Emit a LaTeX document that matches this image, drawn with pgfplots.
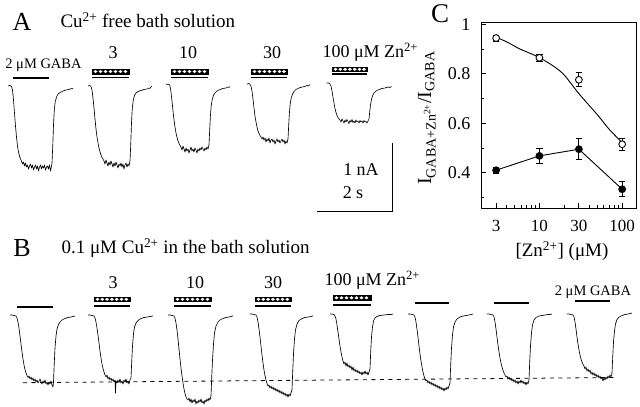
\documentclass[border=0pt]{standalone}
\usepackage{fontspec}
\setmainfont{Liberation Serif}
\usepackage{pgfplots}
\pgfplotsset{compat=1.18}
\newcommand{\fs}[1]{\fontsize{#1}{#1}\selectfont}
\pgfplotsset{
  trace/.style={black, line width=0.65pt, mark=none, line join=round},
  bar/.style={black, line width=1.3pt, mark=none},
  stim/.style={draw=black, fill=black, line width=1pt, mark=none},
  holes/.style={only marks, mark=*, mark size=1.25pt, white, mark options={draw=white, fill=white, xscale=1.3}},
}
\begin{document}
\begin{tikzpicture}
\useasboundingbox (0,0) rectangle (640pt,407pt);
\begin{axis}[at={(0,0)}, anchor=south west, width=640pt, height=407pt,
  scale only axis, hide axis, xmin=0, xmax=640, ymin=0, ymax=407,
  y dir=reverse, clip=false]
% ---------------- Panel A ----------------
\node[font=\fs{26}] at (axis cs:22,22) {A};
\node[font=\fs{19}, anchor=west] at (axis cs:57,20) {Cu\textsuperscript{2+} free bath solution};
\node[font=\fs{14.5}] at (axis cs:43.5,65) {2 μM GABA};
\node[font=\fs{18}] at (axis cs:113,53) {3};
\node[font=\fs{18}] at (axis cs:188,53) {10};
\node[font=\fs{18}] at (axis cs:272,53) {30};
\node[font=\fs{18}, anchor=west] at (axis cs:319,52) {100 μM Zn\textsuperscript{2+}};
% stimulus bars A
\addplot[bar] coordinates {(13,78) (49,78)};
\addplot[stim] coordinates {(92,69) (129,69) (129,74) (92,74)} -- cycle;
\addplot[holes] coordinates {(95.5,71.5) (100.5,71.5) (105.5,71.5) (110.5,71.5) (115.5,71.5) (120.5,71.5) (125.5,71.5)};
\addplot[bar] coordinates {(92,77.5) (129,77.5)};
\addplot[stim] coordinates {(171,69) (208,69) (208,74) (171,74)} -- cycle;
\addplot[holes] coordinates {(174.5,71.5) (179.5,71.5) (184.5,71.5) (189.5,71.5) (194.5,71.5) (199.5,71.5) (204.5,71.5)};
\addplot[bar] coordinates {(171,77.5) (208,77.5)};
\addplot[stim] coordinates {(251,69) (287,69) (287,74) (251,74)} -- cycle;
\addplot[holes] coordinates {(254.5,71.5) (259.5,71.5) (264.5,71.5) (269.5,71.5) (274.5,71.5) (279.5,71.5) (284,71.5)};
\addplot[bar] coordinates {(251,77.5) (287,77.5)};
\addplot[stim] coordinates {(332,67) (367,67) (367,71.5) (332,71.5)} -- cycle;
\addplot[holes] coordinates {(335.5,69.3) (340.3,69.3) (345.1,69.3) (349.9,69.3) (354.7,69.3) (359.5,69.3) (364,69.3)};
\addplot[bar] coordinates {(332,74) (367,74)};
% traces A
\addplot[trace] coordinates {(8,86) (10,85.5) (11.5,86.5) (12.5,90) (13.5,100) (14.5,113) (15.5,126) (16.5,137) (17.5,146) (18.5,152) (19.5,156) (20.5,159) (21.5,161)
 (22.5,164) (23.5,162) (24.5,166) (25.5,163) (26.5,167) (27.5,165) (28.5,169) (29.5,166) (30.5,164) (31.5,168) (32.5,165) (33.5,170) (34.5,167) (35.5,165) (36.5,169) (37.5,166) (38.5,171) (39.5,167) (40.5,165) (41.5,169) (42.5,166) (43.5,168) (44.5,165) (45.5,170) (46.5,167) (47.5,166) (48.5,169) (49.5,165) (50.5,171) (51.5,166) (52,163)
 (52.8,145) (53.5,125) (54.3,110) (55.2,102) (56.5,97) (58,94) (60,92.5) (63,91) (66,90) (69,89.5) (71,88.5) (72,89) (73,88)};
\addplot[trace] coordinates {(88,86) (90,85.5) (91,86.5) (92,90) (93,98) (94,108) (95,119) (96,129) (97,137) (98,143) (99,148) (100,152) (101,155) (102,157.5) (103,159)
 (104,161) (105,164) (106,160) (107,163) (108,166) (109,162) (110,165) (111,161) (112,164) (113,167) (114,163) (115,166) (116,162) (117,165) (118,168) (119,164) (120,166) (121,163) (122,167) (123,164) (124,169) (125,165) (126,163) (127,167) (128,164) (129,166) (130,161)
 (130.8,143) (131.5,123) (132.3,108) (133.3,100) (134.5,95.5) (136,93) (138,91.5) (141,90.5) (144,89.5) (147,89) (149,88) (150,88.5) (151,87) (152,86)};
\addplot[trace] coordinates {(166,84) (168,84.5) (169,84) (170,86) (171,92) (172,101) (173,111) (174,120) (175,127) (176,133) (177,137.5) (178,141) (179,143.5) (180,145.5)
 (181,147) (182,150) (183,146) (184,149) (185,152) (186,148) (187,151) (188,149) (189,153) (190,150) (191,147) (192,151) (193,149) (194,152) (195,148) (196,150) (197,153) (198,149) (199,151) (200,148) (201,150) (202,147) (203,149) (204,151) (205,148) (206,150) (207,147) (208,149) (209,145)
 (209.7,130) (210.4,116) (211.2,106) (212.3,99) (213.6,95) (215,93) (217,91) (220,89.5) (223,88.5) (226,88) (228,87) (229,87.5) (230,86.5)};
\addplot[trace] coordinates {(247,84) (249,83.5) (250,84.5) (251,86) (252,91) (253,99) (254,108) (255,116) (256,122) (257,127) (258,131) (259,133.5) (260,135.5) (261,137)
 (262,139) (263,137) (264,140) (265,138) (266,142) (267,139) (268,141) (269,138) (270,143) (271,140) (272,139) (273,142) (274,140) (275,144) (276,141) (277,139) (278,142) (279,140) (280,143) (281,141) (282,139) (283,142) (284,140) (285,144) (286,141) (287,143) (288,139)
 (288.7,125) (289.4,113) (290.2,104) (291.2,98) (292.5,94) (294,91.5) (296,89.5) (299,88) (302,87) (305,86.5) (307,85.5) (308.5,86) (310,84.5)};
\addplot[trace] coordinates {(326.5,83) (328.5,83) (330,84) (331,86) (332,91) (333,97) (334,103) (335,108.5) (336,112.5) (337,115.5) (338,117.5) (339,119)
 (340,120) (341,122) (342,119) (343,121) (344,123) (345,120) (346,122) (347,119.5) (348,121.5) (349,123.5) (350,120.5) (351,122) (352,119.5) (353,122.5) (354,121) (355,123) (356,120) (357,122) (358,121) (359,123) (360,120.5) (361,122) (362,121) (363,123) (364,120.5) (365,122) (366,121.5) (367,123) (368,121) (369,119)
 (369.7,112) (370.5,105) (371.5,99.5) (372.7,95.5) (374,93) (376,91) (379,89.5) (382,88.5) (385,88) (388,87) (390,87.5) (391.5,86.5)};
% scale bar
\addplot[black, line width=1pt, mark=none] coordinates {(392,143) (392,211) (317,211)};
\node[font=\fs{18}] at (axis cs:361,170) {1 nA};
\node[font=\fs{18}] at (axis cs:353,193) {2 s};
% ---------------- Panel B ----------------
\node[font=\fs{26}] at (axis cs:22,248) {B};
\node[font=\fs{19}, anchor=west] at (axis cs:58,248) {0.1 μM Cu\textsuperscript{2+} in the bath solution};
\node[font=\fs{18}] at (axis cs:113,283) {3};
\node[font=\fs{18}] at (axis cs:195,283) {10};
\node[font=\fs{18}] at (axis cs:273,283) {30};
\node[font=\fs{18}, anchor=west] at (axis cs:321,280) {100 μM Zn\textsuperscript{2+}};
\node[font=\fs{14.5}] at (axis cs:593,292) {2 μM GABA};
% stimulus bars B
\addplot[bar] coordinates {(17,307) (53,307)};
\addplot[stim] coordinates {(94,297) (130,297) (130,301.5) (94,301.5)} -- cycle;
\addplot[holes] coordinates {(97.5,299.3) (102.3,299.3) (107.1,299.3) (111.9,299.3) (116.7,299.3) (121.5,299.3) (126.3,299.3)};
\addplot[bar] coordinates {(94,306) (130,306)};
\addplot[stim] coordinates {(174,297) (211,297) (211,301.5) (174,301.5)} -- cycle;
\addplot[holes] coordinates {(177.5,299.3) (182.5,299.3) (187.5,299.3) (192.5,299.3) (197.5,299.3) (202.5,299.3) (207.5,299.3)};
\addplot[bar] coordinates {(174,306) (211,306)};
\addplot[stim] coordinates {(255,297) (291,297) (291,301.5) (255,301.5)} -- cycle;
\addplot[holes] coordinates {(258.5,299.3) (263.3,299.3) (268.1,299.3) (272.9,299.3) (277.7,299.3) (282.5,299.3) (287.3,299.3)};
\addplot[bar] coordinates {(255,306) (291,306)};
\addplot[stim] coordinates {(333,295.5) (371,295.5) (371,300) (333,300)} -- cycle;
\addplot[holes] coordinates {(336.5,297.8) (341.5,297.8) (346.5,297.8) (351.5,297.8) (356.5,297.8) (361.5,297.8) (366.5,297.8)};
\addplot[bar] coordinates {(333,305) (371,305)};
\addplot[bar] coordinates {(415,303) (449,303)};
\addplot[bar] coordinates {(494,303) (529,303)};
\addplot[bar] coordinates {(575,301) (610,301)};
% dashed reference line
\addplot[black, line width=0.8pt, dash pattern=on 4pt off 4.5pt, mark=none] coordinates {(23,382.7) (617,377.5)};
% traces B
\addplot[trace] coordinates {(10,315) (12,315) (14,315.5) (16,316) (17,318) (18,322) (19,328) (20,336) (21,344) (22,352) (23,359) (24,365) (25,369.5) (26,373) (27,375.5) (28,377.5)
 (29,376) (30,379) (31,377) (32,380) (33,378) (34,381) (35,379) (36,382) (37,380) (38,383) (39,381) (40,379) (41,382) (42,384) (43,381) (44,383) (45,380) (46,384) (47,382) (48,385) (49,382) (50,384) (51,381) (52,385) (53,387) (53.5,382)
 (54.2,365) (55,348) (56,336) (57,329) (58.5,324.5) (60,322) (62,320) (65,318.5) (68,317.5) (71,317) (73,316.5) (75,316)};
\addplot[trace] coordinates {(88,315) (90,315) (92,315.5) (94,316) (95,318) (96,322) (97,328) (98,335) (99,343) (100,351) (101,358) (102,364) (103,368.5) (104,372) (105,375)
 (106,377) (107,375) (108,379) (109,377) (110,380) (111,378) (112,381) (113,379) (114,382) (115,380) (115.5,393) (116,381) (117,383) (118,380) (119,382) (120,379) (121,383) (122,381) (123,384) (124,380) (125,382) (126,379) (127,383) (128,381) (129,384) (130,380) (131,378)
 (131.7,362) (132.5,346) (133.5,334) (134.5,327) (136,323) (138,320.5) (141,318.5) (144,317.5) (147,317) (150,316.5) (153,316)};
\addplot[trace] coordinates {(168,315) (170,315) (172,315.5) (174,316) (175,318) (176,323) (177,330) (178,339) (179,349) (180,359) (181,368) (182,376) (183,383) (184,389) (185,393.5) (186,397) (187,399)
 (188,400) (189,398) (190,402) (191,399) (192,403) (193,400) (194,402) (195,399) (196,404) (197,401) (198,403) (199,400) (200,402) (201,399) (202,403) (203,401) (204,404) (205,400) (206,402) (207,399) (208,401) (209,398) (210,400) (211,396)
 (211.7,378) (212.5,360) (213.5,344) (214.5,333) (216,326) (218,322) (220,320) (223,318.5) (226,317.5) (229,317) (231,316.5) (233,316)};
\addplot[trace] coordinates {(250,314) (252,314) (254,314.5) (256,315) (257,317) (258,322) (259,329) (260,337) (261,346) (262,355) (263,363) (264,370) (265,375.5) (266,380) (267,383.5) (268,386)
 (269,385) (270,388) (271,386) (272,389) (273,387) (274,390) (275,388) (276,391) (277,389) (278,392) (279,390) (280,393) (281,391) (282,394) (283,392) (284,395) (285,393) (286,396) (287,394) (288,397) (289,394) (290,396) (291,393) (292,390)
 (292.7,372) (293.5,354) (294.5,339) (295.5,330) (297,324) (299,320.5) (302,318.5) (305,317.5) (308,317) (311,316.5) (313,316)};
\addplot[trace] coordinates {(330,314) (332,314) (334,314.5) (335,316) (336,319) (337,325) (338,332) (339,339) (340,346) (341,352) (342,357) (343,361) (344,364)
 (345,362) (346,366) (347,363) (348,367) (349,365) (350,368) (351,366) (352,370) (353,367) (354,371) (355,369) (356,372) (357,370) (358,373) (359,371) (360,374) (361,372) (362,375) (363,372) (364,374) (365,371) (366,374) (367,372) (368,375) (369,372) (370,369)
 (370.7,352) (371.5,337) (372.5,327) (373.5,321) (375,318) (377,316.5) (380,315.5) (384,315) (388,314.5) (391,314.5) (393,314)};
\addplot[trace] coordinates {(408,314) (410,314) (412,314.5) (414,315) (415,317) (416,322) (417,329) (418,337) (419,346) (420,354) (421,361) (422,367) (423,372) (424,376) (425,379) (426,381)
 (427,380) (428,383) (429,381) (430,384) (431,382) (432,385) (433,383) (434,386) (435,384) (436,387) (437,385) (438,388) (439,386) (440,389) (441,387) (442,390) (443,388) (444,391) (445,388) (446,390) (447,387) (448,389) (449,386) (450,383)
 (450.7,365) (451.5,348) (452.5,335) (453.5,327) (455,322) (457,319) (460,317) (463,316) (466,315.5) (469,315) (471,314.5) (473,314)};
\addplot[trace] coordinates {(487,314) (489,314) (491,314.5) (493,315) (494,317) (495,322) (496,329) (497,337) (498,345) (499,352) (500,358) (501,363) (502,367) (503,370.5) (504,373)
 (505,375) (506,377) (507,376) (508,379) (509,377) (510,380) (511,378) (512,381) (513,379) (514,382) (515,380) (516,383) (517,381) (518,384) (519,381) (520,383) (521,380) (522,383) (523,381) (524,384) (525,382) (526,385) (527,382) (528,384) (529,380)
 (529.7,362) (530.5,346) (531.5,333) (532.5,325) (534,320) (536,317.5) (539,316) (542,315.5) (545,315) (548,314.5) (550,314.5) (552,314)};
\addplot[trace] coordinates {(567,314) (569,314) (571,314.5) (573,315) (574,317) (575,322) (576,329) (577,337) (578,344) (579,350) (580,355) (581,359) (582,362) (583,364.5)
 (584,366) (585,369) (586,367) (587,371) (588,369) (589,372) (590,370) (591,374) (592,372) (593,375) (594,373) (595,376) (596,374) (597,377) (598,375) (599,378) (600,376) (601,379) (602,377) (603,381) (604,378) (605,380) (606,377) (607,379) (608,376) (609,378) (610,375) (611,377) (612,373)
 (612.7,357) (613.5,342) (614.5,331) (615.5,324) (617,319.5) (619,317) (622,315.5) (625,314.5) (628,314) (630,313.5) (632,313)};
% panel C letter and x label
\node[font=\fs{27}] at (axis cs:440,14) {C};
\node[font=\fs{19}] at (axis cs:562,251) {[Zn\textsuperscript{2+}] (μM)};
\end{axis}
% ---------------- Panel C ----------------
\begin{axis}[at={(481pt,199pt)}, anchor=south west, width=155pt, height=186pt,
  scale only axis, xmode=log, xmin=1.97, xmax=147, ymin=0.257, ymax=1.01,
  axis line style={line width=0.9pt},
  xtick={3,10,30,100}, xticklabels={3,10,30,100},
  minor xtick={4,5,6,7,8,9,20,40,50,60,70,80,90},
  ytick={0.4,0.6,0.8,1}, yticklabels={0.4,0.6,0.8,1},
  minor ytick={0.3,0.5,0.7,0.9},
  tick pos=left, tick align=inside,
  major tick length=4.5pt, minor tick length=3pt,
  every tick/.style={black, line width=0.8pt},
  /pgf/number format/assume math mode=true,
  xticklabel style={font=\fs{17}, yshift=-9pt},
  yticklabel style={font=\fs{18}, xshift=-7pt},
  ylabel={I\textsubscript{GABA+Zn\textsuperscript{2+}}/I\textsubscript{GABA}},
  ylabel style={font=\fs{20}, at={(axis description cs:-0.349,0.484)}, anchor=center},
  clip=false]
\addplot[black, line width=0.9pt, smooth, mark=none] coordinates {(3,0.948) (4,0.93) (5.7,0.902) (7.5,0.885) (10,0.866) (15,0.83) (20,0.795) (30,0.72) (50,0.635) (70,0.575) (100,0.522)};
\addplot[black, line width=0.9pt, only marks, mark=*, mark size=3.4pt, mark options={fill=white},
  error bars/.cd, y dir=both, y explicit,
  error bar style={line width=0.9pt}, error mark options={rotate=90, mark size=3.2pt, line width=0.9pt}]
  coordinates {(3,0.945) +- (0,0.012) (10,0.865) +- (0,0.013) (30,0.776) +- (0,0.028) (100,0.515) +- (0,0.025)};
\addplot[black, line width=0.9pt, mark=*, mark size=3.4pt, mark options={fill=black},
  error bars/.cd, y dir=both, y explicit,
  error bar style={line width=0.9pt}, error mark options={rotate=90, mark size=3.2pt, line width=0.9pt}]
  coordinates {(3,0.41) +- (0,0.013) (10,0.468) +- (0,0.03) (30,0.495) +- (0,0.042) (100,0.333) +- (0,0.03)};
\end{axis}
\end{tikzpicture}
\end{document}
